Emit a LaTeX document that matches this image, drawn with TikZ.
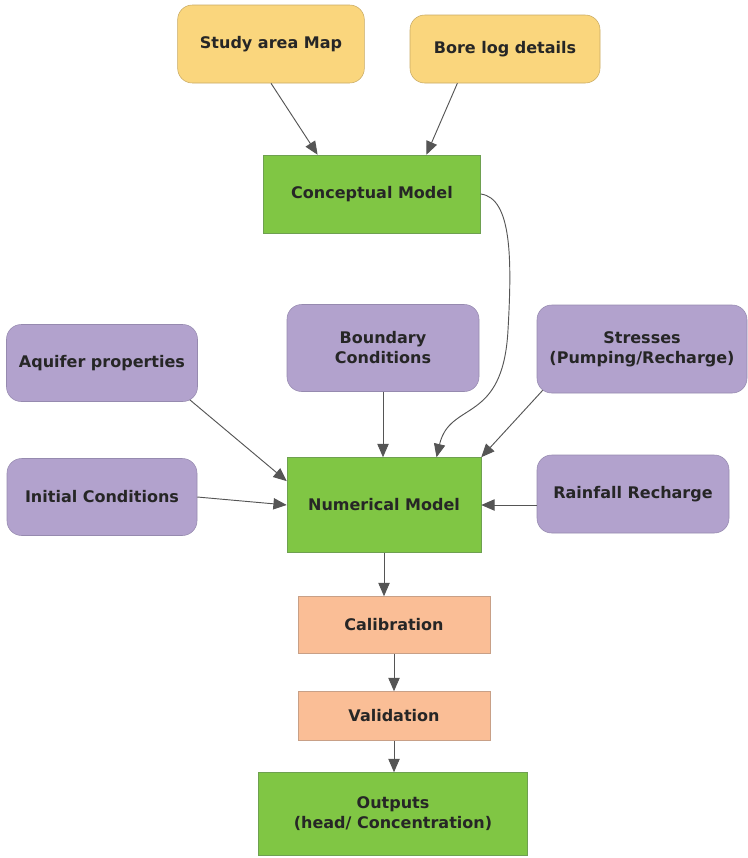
\documentclass[tikz,border=0pt]{standalone}
\usepackage{fontspec}
\setmainfont{DejaVu Sans}
\usetikzlibrary{arrows.meta,calc}

\definecolor{mapfill}{RGB}{250,214,125}
\definecolor{mapline}{RGB}{200,170,100}
\definecolor{modfill}{RGB}{128,198,68}
\definecolor{modline}{RGB}{110,160,80}
\definecolor{inpfill}{RGB}{178,162,205}
\definecolor{inpline}{RGB}{150,138,175}
\definecolor{calfill}{RGB}{250,190,150}
\definecolor{calline}{RGB}{200,160,135}
\definecolor{arrgray}{RGB}{85,85,85}

\begin{document}
\begin{tikzpicture}[x=0.75pt, y=-0.75pt,
    every node/.style = {align=center, inner sep=2pt, text=black!85,
                  font=\fontsize{12}{15}\selectfont\bfseries},
    databox/.style = {shape=rectangle, rounded corners=11pt, draw=mapline, fill=mapfill},
    modelbox/.style = {shape=rectangle, draw=modline, fill=modfill},
    inputbox/.style = {shape=rectangle, rounded corners=11pt, draw=inpline, fill=inpfill},
    checkbox/.style = {shape=rectangle, draw=calline, fill=calfill},
    flow/.style = {draw=arrgray, line width=0.7pt, -{Triangle[length=10pt,width=8.5pt]}}]
  \useasboundingbox (0,0) rectangle (748,858);

  % data
  \node[databox, minimum width=140pt, minimum height=58.5pt] (map) at (271,44) {Study area Map};
  \node[databox, minimum width=142.5pt, minimum height=51pt] (bore) at (505,49) {Bore log details};
  \node[modelbox, minimum width=162.75pt, minimum height=58.5pt] (conc) at (372,194) {Conceptual Model};

  % model inputs
  \node[inputbox, minimum width=143.25pt, minimum height=57.75pt] (aquifer) at (102,363) {Aquifer properties};
  \node[inputbox, minimum width=144pt, minimum height=65.25pt] (bound) at (383,348) {Boundary\\Conditions};
  \node[inputbox, minimum width=157.5pt, minimum height=66pt] (stress) at (642,349) {Stresses\\(Pumping/Recharge)};
  \node[inputbox, minimum width=142.5pt, minimum height=57.75pt] (init) at (102,497) {Initial Conditions};
  \node[modelbox, minimum width=145.5pt, minimum height=71.25pt] (num) at (384,505) {Numerical Model};
  \node[inputbox, minimum width=144pt, minimum height=58.5pt] (rain) at (633,494) {Rainfall Recharge};

  % calibration chain
  \node[checkbox, minimum width=144pt, minimum height=42.75pt] (calib) at (394,625) {Calibration};
  \node[checkbox, minimum width=144pt, minimum height=36.75pt] (valid) at (394,716) {Validation};
  \node[modelbox, minimum width=201.75pt, minimum height=62.25pt] (out) at (393,814) {Outputs\\(head/ Concentration)};

  % connectors
  \draw[flow] (map.south) -- ($(conc.north west)!0.25!(conc.north east)$);
  \draw[flow] ($(bore.south west)!0.25!(bore.south east)$) -- ($(conc.north west)!0.75!(conc.north east)$);
  \draw[flow] (conc.east) .. controls (512,198) and (512,260) .. (508,330)
                          .. controls (503,425) and (450,400) .. ($(num.north west)!0.77!(num.north east)$);
  \draw[flow] ($(aquifer.south east)+(-8,-2)$) -- ($(num.north west)!0.25!(num.south west)$);
  \draw[flow] (init.east) -- (num.west);
  \draw[flow] (bound.south) -- (bound.south |- num.north);
  \draw[flow] ($(stress.south west)+(6,-3)$) -- (num.north east);
  \draw[flow] (rain.west |- num.east) -- (num.east);
  \draw[flow] (num.south) -- (num.south |- calib.north);
  \draw[flow] (calib.south) -- (valid.north);
  \draw[flow] (valid.south) -- (valid.south |- out.north);
\end{tikzpicture}
\end{document}
